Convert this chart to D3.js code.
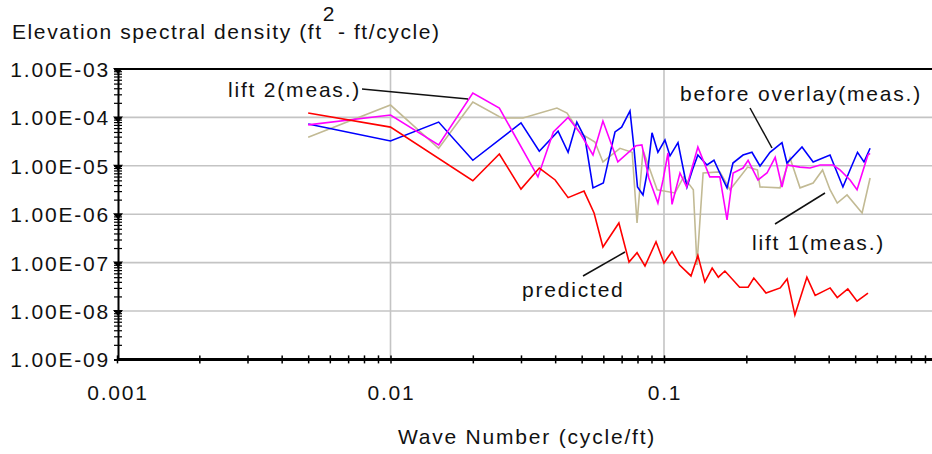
<!DOCTYPE html>
<html>
<head>
<meta charset="utf-8">
<script src="https://cdn.jsdelivr.net/npm/d3@7"></script>
<style>
  html, body { margin: 0; padding: 0; background: #fff; }
  svg { display: block; }
  text { font-family: "Liberation Sans", Arial, sans-serif; font-size: 21px; fill: #111; letter-spacing: 1.8px; }
  text.ytitle { letter-spacing: 1.6px; }
</style>
</head>
<body>
<svg id="chart" width="932" height="454"></svg>
<script>
// Axis ticks
const xTickValues = [0.001, 0.01, 0.1];
const xTickLabels = ["0.001", "0.01", "0.1"];
const yTickValues = [1e-3, 1e-4, 1e-5, 1e-6, 1e-7, 1e-8, 1e-9];
const yTickLabels = ["1.00E-03", "1.00E-04", "1.00E-05", "1.00E-06", "1.00E-07", "1.00E-08", "1.00E-09"];

// Predicted spectrum
const predictedK = [0.005, 0.01, 0.02, 0.025, 0.03, 0.035, 0.040, 0.0446, 0.051, 0.0555, 0.0598, 0.0684, 0.0745, 0.0797, 0.0852, 0.0935, 0.1, 0.107, 0.114, 0.1255, 0.133, 0.141, 0.150, 0.158, 0.167, 0.189, 0.203, 0.213, 0.236, 0.266, 0.282, 0.301, 0.333, 0.357, 0.405, 0.430, 0.470, 0.508, 0.557];
const predictedPSD = [1.23e-4, 6.3e-5, 4.9e-6, 1.75e-5, 3.3e-6, 9.0e-6, 5.1e-6, 2.2e-6, 3.0e-6, 1.06e-6, 2.1e-7, 6.6e-7, 1.03e-7, 1.6e-7, 8.5e-8, 2.7e-7, 9.8e-8, 1.7e-7, 8.9e-8, 5.3e-8, 1.4e-7, 4.0e-8, 7.7e-8, 5.0e-8, 6.7e-8, 3.1e-8, 3.1e-8, 4.8e-8, 2.35e-8, 3.0e-8, 4.6e-8, 8.3e-9, 5.0e-8, 2.1e-8, 3.0e-8, 1.9e-8, 2.85e-8, 1.6e-8, 2.35e-8];

// Measured before overlay
const beforeK = [0.005, 0.01, 0.015, 0.02, 0.03, 0.035, 0.041, 0.0446, 0.048, 0.0514, 0.055, 0.060, 0.0635, 0.0662, 0.070, 0.0751, 0.0776, 0.080, 0.0838, 0.0874, 0.0904, 0.095, 0.1008, 0.1052, 0.1125, 0.1213, 0.127, 0.133, 0.1436, 0.1523, 0.160, 0.170, 0.1787, 0.1945, 0.2097, 0.2244, 0.2441, 0.270, 0.2815, 0.3196, 0.351, 0.4046, 0.451, 0.4787, 0.51, 0.5386, 0.567];
const beforePSD = [7.3e-5, 3.25e-5, 8.0e-5, 1.3e-5, 7.7e-5, 2.0e-5, 5.2e-5, 1.9e-5, 8.0e-5, 3.75e-5, 3.5e-6, 4.4e-6, 1.8e-5, 5.0e-5, 6.3e-5, 1.36e-4, 2.45e-5, 3.65e-6, 2.5e-6, 9.0e-6, 4.8e-5, 1.9e-5, 3.4e-5, 1.6e-5, 3.0e-5, 3.65e-6, 8.2e-6, 1.67e-5, 1.04e-5, 1.3e-5, 7.1e-6, 3.5e-6, 1.14e-5, 1.67e-5, 1.9e-5, 9.9e-6, 1.9e-5, 3.0e-5, 1.14e-5, 2.45e-5, 1.2e-5, 1.67e-5, 3.65e-6, 8.2e-6, 1.9e-5, 1.2e-5, 2.3e-5];

// Measured lift 1
const lift1K = [0.005, 0.01, 0.015, 0.02, 0.0255, 0.0305, 0.0406, 0.0442, 0.0493, 0.0559, 0.0598, 0.069, 0.0765, 0.0797, 0.0838, 0.0944, 0.1097, 0.118, 0.128, 0.132, 0.139, 0.160, 0.1743, 0.2022, 0.2196, 0.2244, 0.2656, 0.2889, 0.3143, 0.351, 0.38, 0.4046, 0.43, 0.467, 0.53, 0.567];
const lift1PSD = [3.9e-5, 1.8e-4, 2.3e-5, 2.08e-4, 9.7e-5, 9.7e-5, 1.56e-4, 1.23e-4, 4.8e-5, 3.1e-5, 1.2e-5, 2.3e-5, 1.9e-5, 6.6e-7, 2.1e-5, 3.2e-6, 2.75e-6, 5.9e-6, 3.2e-6, 8.9e-8, 7.1e-6, 7.5e-6, 3.2e-6, 9.4e-6, 8.2e-6, 3.65e-6, 3.5e-6, 1.45e-5, 3.5e-6, 4.4e-6, 8.2e-6, 3.2e-6, 1.7e-6, 2.5e-6, 1.06e-6, 5.6e-6];

// Measured lift 2
const lift2K = [0.005, 0.01, 0.015, 0.02, 0.025, 0.0346, 0.0394, 0.0446, 0.0493, 0.055, 0.0598, 0.0678, 0.079, 0.083, 0.088, 0.095, 0.0992, 0.1034, 0.107, 0.1144, 0.121, 0.133, 0.147, 0.160, 0.170, 0.179, 0.1945, 0.203, 0.2206, 0.238, 0.255, 0.270, 0.282, 0.314, 0.342, 0.372, 0.415, 0.440, 0.479, 0.508, 0.5565, 0.567];
const lift2PSD = [7.0e-5, 1.12e-4, 2.7e-5, 3.2e-4, 1.56e-4, 5.9e-6, 5.0e-5, 1.0e-4, 4.8e-5, 1.67e-5, 8.4e-5, 1.2e-5, 2.6e-5, 2.7e-5, 5.6e-6, 1.7e-6, 5.1e-6, 1.84e-5, 1.6e-6, 7.1e-6, 3.65e-6, 2.45e-5, 5.9e-6, 5.9e-6, 7.6e-7, 7.1e-6, 9.0e-6, 1.3e-5, 5.1e-6, 7.1e-6, 1.5e-5, 3.65e-6, 1.04e-5, 9.4e-6, 9.0e-6, 1.04e-5, 1.04e-5, 8.2e-6, 5.1e-6, 3.2e-6, 1.67e-5, 1.8e-5];

const series = [
  { name: "lift 1(meas.)", k: lift1K, v: lift1PSD, color: "#c2ba94" },
  { name: "before overlay(meas.)", k: beforeK, v: beforePSD, color: "#0000ff" },
  { name: "lift 2(meas.)", k: lift2K, v: lift2PSD, color: "#ff00ff" },
  { name: "predicted", k: predictedK, v: predictedPSD, color: "#ff0000" }
];

const W = 932, H = 454;
const plot = { left: 117, top: 69, bottom: 359.4, right: 937.5 };

const x = d3.scaleLog().domain([0.001, 1]).range([plot.left, plot.right]);
const y = d3.scaleLog().domain([1e-9, 1e-3]).range([plot.bottom, plot.top]);

const svg = d3.select("#chart");
svg.append("rect").attr("width", W).attr("height", H).attr("fill", "#fff");

svg.append("defs").append("clipPath").attr("id", "plotClip")
  .append("rect").attr("x", plot.left).attr("y", plot.top - 2)
  .attr("width", W - plot.left).attr("height", plot.bottom - plot.top + 4);

// Grid lines at each decade
const grid = svg.append("g").attr("stroke", "#c4c4c4").attr("stroke-width", 1.6);
grid.selectAll("line.gx").data(xTickValues.slice(1)).join("line")
  .attr("x1", d => x(d)).attr("x2", d => x(d))
  .attr("y1", plot.top).attr("y2", plot.bottom);
grid.selectAll("line.gy").data(yTickValues.slice(1, -1)).join("line")
  .attr("x1", plot.left).attr("x2", W)
  .attr("y1", d => y(d)).attr("y2", d => y(d));

// Top frame line
svg.append("line").attr("x1", plot.left).attr("x2", W)
  .attr("y1", plot.top).attr("y2", plot.top)
  .attr("stroke", "#000").attr("stroke-width", 2);

// Series
const line = d3.line().x(d => x(d[0])).y(d => y(d[1]));
const lines = svg.append("g").attr("clip-path", "url(#plotClip)");
series.forEach(s => {
  lines.append("path")
    .datum(s.k.map((k, i) => [k, s.v[i]]))
    .attr("d", line)
    .attr("fill", "none")
    .attr("stroke", s.color)
    .attr("stroke-width", 1.6)
    .attr("stroke-linejoin", "miter");
});

// Minor tick values (1..9 in each decade)
function minorTicks(lo, hi) {
  const out = [];
  for (let e = lo; e < hi; e++) for (let m = 1; m <= 9; m++) out.push(m * Math.pow(10, e));
  out.push(Math.pow(10, hi));
  return out;
}

// Left axis
const yAxis = svg.append("g").attr("transform", `translate(${plot.left + 1},0)`)
  .call(d3.axisLeft(y).tickValues(minorTicks(-9, -3)).tickSize(4).tickFormat(""));
yAxis.select(".domain").attr("stroke", "#000").attr("stroke-width", 2);
yAxis.selectAll(".tick line").attr("x1", -4).attr("x2", 4).attr("stroke", "#000").attr("stroke-width", 1.2);
// Decade markers on the left axis
svg.append("g").selectAll("path").data(yTickValues.slice(0, -1)).join("path")
  .attr("d", d => `M${plot.left - 4},${y(d) - 1}L${plot.left + 6},${y(d) - 1}L${plot.left + 1},${y(d) + 5}Z`)
  .attr("fill", "#000");

svg.append("g").selectAll("text").data(yTickValues).join("text")
  .attr("x", 110).attr("y", d => y(d) + 8)
  .attr("text-anchor", "end")
  .text((d, i) => yTickLabels[i]);

// Bottom axis
const xAxis = svg.append("g").attr("transform", `translate(0,${plot.bottom})`)
  .call(d3.axisBottom(x).tickValues(minorTicks(-3, 0).filter(v => x(v) < W)).tickSize(4).tickFormat(""));
xAxis.select(".domain").remove();
xAxis.append("line").attr("x1", plot.left).attr("x2", W).attr("stroke", "#000").attr("stroke-width", 3);
xAxis.selectAll(".tick line").attr("y1", -4).attr("y2", 4).attr("stroke", "#000").attr("stroke-width", 1.5);

svg.append("g").selectAll("text").data(xTickValues).join("text")
  .attr("x", d => x(d) + 1).attr("y", 400)
  .attr("text-anchor", "middle")
  .text((d, i) => xTickLabels[i]);

// Axis titles (the squared unit is raised between "ft" and the dash)
const yTitle = svg.append("text").attr("class", "ytitle").attr("x", 12).attr("y", 39);
yTitle.append("tspan").text("Elevation spectral density (ft");
yTitle.append("tspan").attr("dy", -18).attr("dx", 0).text("2");
yTitle.append("tspan").attr("dy", 18).attr("dx", 2).text("- ft/cycle)");
svg.append("text").attr("x", 527).attr("y", 444).attr("text-anchor", "middle").text("Wave Number (cycle/ft)");

// Series labels with leader lines
const notes = [
  { text: "lift 2(meas.)", tx: 228, ty: 97, lead: [[362, 89], [468, 99]] },
  { text: "before overlay(meas.)", tx: 680, ty: 101, lead: [[750, 108], [772, 148]] },
  { text: "lift 1(meas.)", tx: 752, ty: 250, lead: [[825, 193], [775, 224]] },
  { text: "predicted", tx: 522, ty: 297, lead: [[583, 276], [625, 252]] }
];
const ann = svg.append("g");
notes.forEach(n => {
  ann.append("line")
    .attr("x1", n.lead[0][0]).attr("y1", n.lead[0][1])
    .attr("x2", n.lead[1][0]).attr("y2", n.lead[1][1])
    .attr("stroke", "#111").attr("stroke-width", 1.5);
  ann.append("text").attr("x", n.tx).attr("y", n.ty).text(n.text);
});
</script>
</body>
</html>
